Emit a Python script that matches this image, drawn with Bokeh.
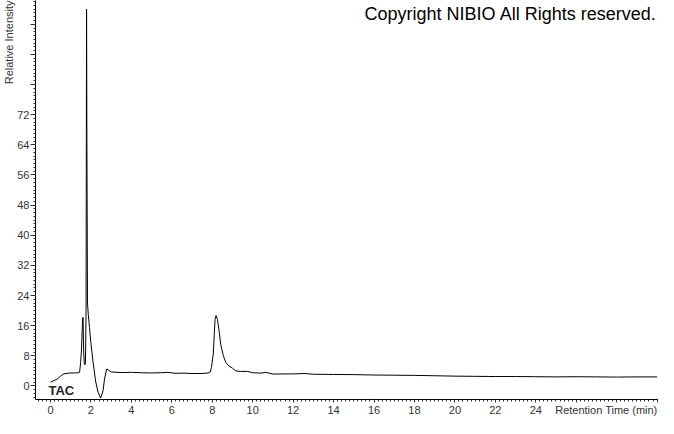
from bokeh.plotting import figure
from bokeh.models import (SingleIntervalTicker, FixedTicker, Label, Range1d,
                          LinearAxis, Title)
from bokeh.embed import file_html
from bokeh.resources import INLINE

# Retention time (min) and relative intensity of the TAC trace
time_min = [
    0.00, 0.33, 0.50, 0.63, 0.87, 1.20, 1.39, 1.44, 1.49, 1.53, 1.59, 1.61,
    1.64, 1.67, 1.70, 1.73, 1.76, 1.785, 1.80, 1.83, 1.87, 1.93, 1.99, 2.10,
    2.23, 2.35, 2.48, 2.60, 2.67, 2.78, 2.87, 3.00, 3.50, 4.00, 4.50, 5.00,
    5.50, 5.80, 6.20, 6.50, 7.00, 7.50, 7.80, 7.90, 7.96, 8.05, 8.10, 8.14,
    8.19, 8.26, 8.34, 8.42, 8.55, 8.67, 8.83, 9.00, 9.16, 9.40, 9.75, 10.00,
    10.40, 10.65, 11.00, 12.00, 12.60, 13.00, 14.00, 15.00, 16.00, 17.00,
    18.00, 19.00, 20.00, 21.00, 22.00, 23.00, 24.00, 25.00, 26.00, 27.00,
    28.00, 29.00, 30.00,
]
intensity = [
    1.0, 1.8, 2.6, 3.15, 3.4, 3.45, 3.5, 3.6, 6.2, 9.3, 18.0, 18.2,
    9.3, 6.0, 5.6, 6.0, 20.0, 100.0, 66.0, 22.0, 19.0, 15.5, 11.8, 6.6,
    1.3, -1.6, -3.2, -1.3, 1.8, 4.5, 4.2, 3.7, 3.55, 3.6, 3.5, 3.45,
    3.5, 3.6, 3.35, 3.4, 3.3, 3.3, 3.45, 3.7, 4.9, 8.4, 13.7, 17.6,
    18.7, 17.6, 14.5, 11.0, 8.0, 6.2, 5.3, 4.7, 4.0, 3.85, 3.85, 3.5,
    3.4, 3.6, 3.15, 3.2, 3.3, 3.1, 3.05, 3.0, 2.9, 2.85,
    2.8, 2.7, 2.6, 2.55, 2.5, 2.5, 2.45, 2.4, 2.45, 2.4,
    2.35, 2.4, 2.4,
]

# labelled x ticks, unlabelled major x ticks, and where the x title sits
x_tick_labels = [0, 2, 4, 6, 8, 10, 12, 14, 16, 18, 20, 22, 24]
x_major_ticks = [0, 2, 4, 6, 8, 10, 12, 14, 16, 18, 20, 22, 24, 26, 28, 30]
x_title_pos = 27.49
y_hidden_ticks = [80, 88, 96]

title_text = "Copyright NIBIO All Rights reserved."
trace_name = "TAC"
x_title = "Retention Time (min)"
y_title = "Relative Intensity"

p = figure(
    width=658, height=418,
    x_range=Range1d(-0.741, 30.07), y_range=Range1d(-3.6, 102.3),
    output_backend="svg", toolbar_location=None,
    min_border_left=34, min_border_right=0, min_border_top=0, min_border_bottom=16,
)
p.outline_line_color = None
p.xgrid.visible = False
p.ygrid.visible = False
p.background_fill_color = "white"
p.border_fill_color = "white"

p.line(time_min, intensity, line_color="black", line_width=1)

LABEL_FONT = "Liberation Sans"
LABEL_COLOR = "#333333"

# main x axis: line and ticks only
xax = p.xaxis[0]
xax.ticker = SingleIntervalTicker(interval=2, num_minor_ticks=10)
xax.axis_line_color = "black"
xax.major_tick_line_color = LABEL_COLOR
xax.minor_tick_line_color = LABEL_COLOR
xax.major_tick_in = 0
xax.minor_tick_in = 0
xax.major_tick_out = 3
xax.minor_tick_out = 2
xax.major_label_standoff = 0
xax.major_label_text_font_size = "0px"
xax.major_label_overrides = {t: "" for t in x_major_ticks}

# second axis below carrying the tick numbers and the x title in one row
lab_ax = LinearAxis(
    ticker=FixedTicker(ticks=x_tick_labels + [x_title_pos]),
    axis_line_color=None, major_tick_line_color=None, minor_tick_line_color=None,
    major_tick_in=0, major_tick_out=0, minor_tick_in=0, minor_tick_out=0,
    major_label_standoff=1,
    major_label_text_font=LABEL_FONT, major_label_text_font_size="11px",
    major_label_text_color=LABEL_COLOR,
    major_label_overrides={x_title_pos: x_title},
)
p.add_layout(lab_ax, "below")

yax = p.yaxis[0]
yax.ticker = SingleIntervalTicker(interval=8, num_minor_ticks=8)
yax.axis_line_color = "black"
yax.major_tick_line_color = LABEL_COLOR
yax.minor_tick_line_color = LABEL_COLOR
yax.major_tick_in = 0
yax.minor_tick_in = 0
yax.major_tick_out = 5
yax.minor_tick_out = 2
yax.major_label_standoff = 1
yax.major_label_text_font = LABEL_FONT
yax.major_label_text_font_size = "11px"
yax.major_label_text_color = LABEL_COLOR
yax.major_label_overrides = {t: "" for t in y_hidden_ticks}

p.add_layout(Title(text=y_title, align="right", standoff=0, offset=0,
                   text_font=LABEL_FONT, text_font_size="11px",
                   text_font_style="normal", text_color=LABEL_COLOR), "left")

p.add_layout(Label(x=29.98, y=98.6, text=title_text, text_align="right",
                   text_baseline="middle", text_font=LABEL_FONT,
                   text_font_size="18px", text_color="black"))
p.add_layout(Label(x=-0.1, y=-1.24, text=trace_name, text_align="left",
                   text_baseline="middle", text_font=LABEL_FONT,
                   text_font_style="bold", text_font_size="13px",
                   text_color="#222222"))

open("out.html", "w").write(file_html(p, INLINE))
